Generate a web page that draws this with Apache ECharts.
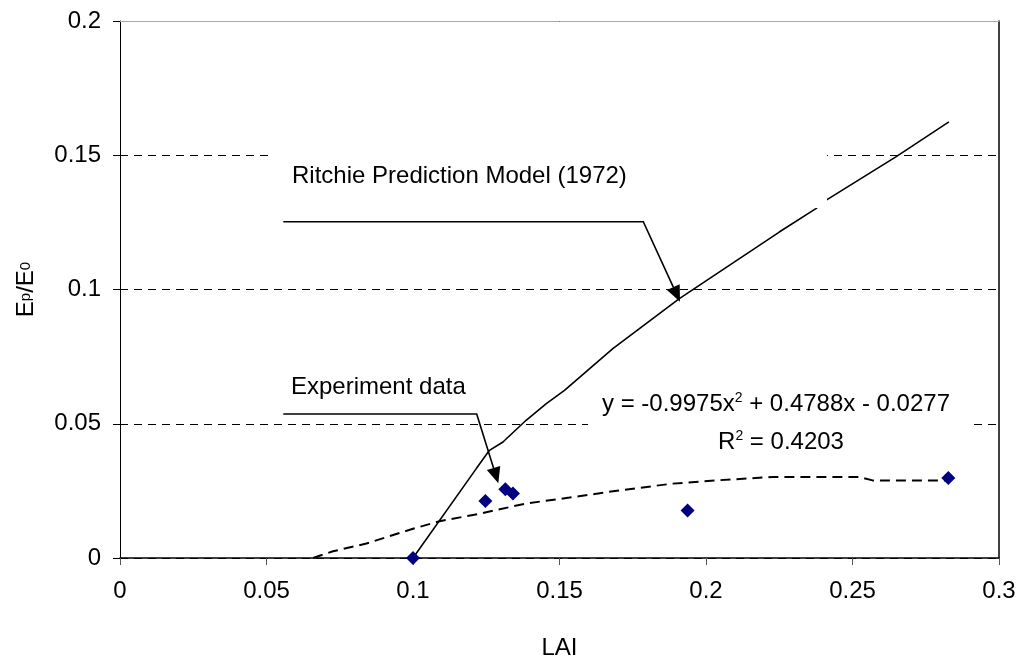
<!DOCTYPE html>
<html>
<head>
<meta charset="utf-8">
<title>Ep/E0 vs LAI</title>
<script src="https://cdn.jsdelivr.net/npm/echarts@6/dist/echarts.min.js"></script>
<style>
  html, body { margin: 0; padding: 0; background: #fff; }
  #chart { width: 1024px; height: 669px; }
</style>
</head>
<body>
<div id="chart"></div>
<script>
// Measured experiment points (LAI, Ep/E0)
const experimentLAI   = [0.1, 0.1247, 0.1315, 0.1341, 0.1937, 0.2827];
const experimentRatio = [0, 0.0212, 0.0256, 0.0240, 0.0177, 0.0298];

// Ritchie (1972) prediction curve
const ritchieLAI   = [0.1, 0.1216, 0.1261, 0.1307, 0.1386, 0.1455, 0.1517, 0.1682, 0.1909, 0.2250, 0.2375, 0.2409, 0.2648, 0.2829];
const ritchieRatio = [0, 0.0333, 0.0401, 0.0432, 0.0513, 0.0575, 0.0624, 0.0780, 0.0966, 0.1214, 0.1301, 0.1332, 0.1494, 0.1624];

// Polynomial trendline through the experiment points
const trendLAI   = [0.0659, 0.0727, 0.0841, 0.1, 0.1091, 0.1227, 0.1386, 0.1534, 0.1705, 0.1886, 0.2034, 0.2227, 0.2523, 0.2568, 0.2824];
const trendRatio = [0, 0.0025, 0.0054, 0.0109, 0.0137, 0.0165, 0.0203, 0.0225, 0.0252, 0.0277, 0.0289, 0.0302, 0.0302, 0.0289, 0.0289];

// Axis ranges and tick steps
const xRange = [0, 0.3], xStep = 0.05;
const yRange = [0, 0.2], yStep = 0.05;

// Annotation texts
const ritchieLabel = 'Ritchie Prediction Model (1972)';
const experimentLabel = 'Experiment data';
const equationLabel = '{t|y = -0.9975x}{sup|2}{t| + 0.4788x - 0.0277}';
const r2Label = '{t|R}{sup|2}{t| = 0.4203}';

const FONT = '"Liberation Sans", Arial, sans-serif';
const FS = 24;

const zip = (xs, ys) => xs.map((x, i) => [x, ys[i]]);

// Filled triangular arrowhead pointing from `from` to `tip`
function arrowHead(from, tip, len, halfW) {
  const dx = tip[0] - from[0], dy = tip[1] - from[1];
  const d = Math.hypot(dx, dy);
  const ux = dx / d, uy = dy / d;
  const bx = tip[0] - ux * len, by = tip[1] - uy * len;
  return [tip, [bx - uy * halfW, by + ux * halfW], [bx + uy * halfW, by - ux * halfW]];
}

function callout(points) {
  const n = points.length;
  const tip = points[n - 1];
  const prev = points[n - 2];
  const head = arrowHead(prev, tip, 16, 7);
  const shaft = points.slice(0, n - 1).concat([[ (head[1][0] + head[2][0]) / 2, (head[1][1] + head[2][1]) / 2 ]]);
  return [
    { type: 'polyline', z: 110, shape: { points: shaft }, style: { stroke: '#000', lineWidth: 1.6, fill: null } },
    { type: 'polygon', z: 110, shape: { points: head }, style: { fill: '#000' } }
  ];
}

const chart = echarts.init(document.getElementById('chart'), null, { renderer: 'canvas' });

const axisLabelStyle = { color: '#000', fontFamily: FONT, fontSize: FS };
const richText = {
  t: { fontFamily: FONT, fontSize: FS, lineHeight: 30, color: '#000' },
  sup: { fontFamily: FONT, fontSize: 14, lineHeight: 30, padding: [0, 0, 12, 0], color: '#000' }
};

chart.setOption({
  backgroundColor: '#fff',
  animation: false,
  grid: { left: 120, right: 25, top: 21, bottom: 111, containLabel: false },
  xAxis: [{
    type: 'value', min: xRange[0], max: xRange[1], interval: xStep,
    name: 'LAI', nameLocation: 'middle', nameGap: 78,
    nameTextStyle: { color: '#000', fontFamily: FONT, fontSize: FS },
    axisLine: { show: true, onZero: false, lineStyle: { color: '#000', width: 1.5 } },
    axisTick: { show: true, inside: false, length: 7, lineStyle: { color: '#555' } },
    axisLabel: Object.assign({ margin: 21 }, axisLabelStyle),
    splitLine: { show: false }
  }, {
    type: 'value', position: 'top', min: xRange[0], max: xRange[1], interval: xStep,
    axisLine: { show: true, onZero: false, lineStyle: { color: '#aaa', width: 1 } },
    axisTick: { show: false }, axisLabel: { show: false }, splitLine: { show: false }
  }],
  yAxis: [{
    type: 'value', min: yRange[0], max: yRange[1], interval: yStep,
    name: '{m|E}{s|p}{m|/E}{s|0}', nameLocation: 'middle', nameGap: 82, nameRotate: 90,
    nameTextStyle: {
      color: '#000', fontFamily: FONT, fontSize: FS,
      rich: {
        m: { fontFamily: FONT, fontSize: FS, color: '#000' },
        s: { fontFamily: FONT, fontSize: 15, color: '#000' }
      }
    },
    axisLine: { show: true, onZero: false, lineStyle: { color: '#000', width: 1 } },
    axisTick: { show: true, inside: false, length: 7, lineStyle: { color: '#000' } },
    axisLabel: Object.assign({ margin: 19 }, axisLabelStyle),
    splitLine: { show: true, lineStyle: { color: '#000', width: 1, type: [8, 6] } }
  }, {
    type: 'value', position: 'right', min: yRange[0], max: yRange[1], interval: yStep,
    axisLine: { show: true, onZero: false, lineStyle: { color: '#000', width: 1.5 } },
    axisTick: { show: false }, axisLabel: { show: false }, splitLine: { show: false }
  }],
  series: [{
    name: 'Trendline', type: 'line', data: zip(trendLAI, trendRatio),
    showSymbol: false, symbol: 'none', z: 3,
    lineStyle: { color: '#000', width: 2, type: [10, 6] }
  }, {
    name: 'Ritchie', type: 'line', data: zip(ritchieLAI, ritchieRatio),
    showSymbol: false, symbol: 'none', z: 4,
    lineStyle: { color: '#000', width: 1.6 }
  }, {
    name: 'Experiment', type: 'scatter', data: zip(experimentLAI, experimentRatio),
    symbol: 'diamond', symbolSize: 14, z: 5,
    itemStyle: { color: '#000080', opacity: 1 }
  }],
  graphic: [
    // Label boxes (white fill hides what lies beneath them)
    { type: 'rect', z: 100, shape: { x: 273, y: 140, width: 554, height: 68 }, style: { fill: '#fff' } },
    { type: 'text', z: 105, x: 292, y: 176,
      style: { text: ritchieLabel, font: FS + 'px ' + FONT, fill: '#000',
               align: 'left', verticalAlign: 'middle', textAlign: 'left', textVerticalAlign: 'middle' } },
    { type: 'text', z: 105, x: 291, y: 387,
      style: { text: experimentLabel, font: FS + 'px ' + FONT, fill: '#000',
               align: 'left', verticalAlign: 'middle', textAlign: 'left', textVerticalAlign: 'middle' } },
    { type: 'rect', z: 100, shape: { x: 588, y: 385, width: 384, height: 78 }, style: { fill: '#fff' } },
    { type: 'text', z: 105, x: 776, y: 404,
      style: { text: equationLabel, fill: '#000', align: 'center', verticalAlign: 'middle',
               textAlign: 'center', textVerticalAlign: 'middle', rich: richText } },
    { type: 'text', z: 105, x: 781, y: 442,
      style: { text: r2Label, fill: '#000', align: 'center', verticalAlign: 'middle',
               textAlign: 'center', textVerticalAlign: 'middle', rich: richText } }
  ]
    .concat(callout([[283.3, 221.7], [643.3, 221.7], [680, 301.7]]))
    .concat(callout([[283.3, 414], [476.7, 414], [498.3, 483.3]]))
});
</script>
</body>
</html>
